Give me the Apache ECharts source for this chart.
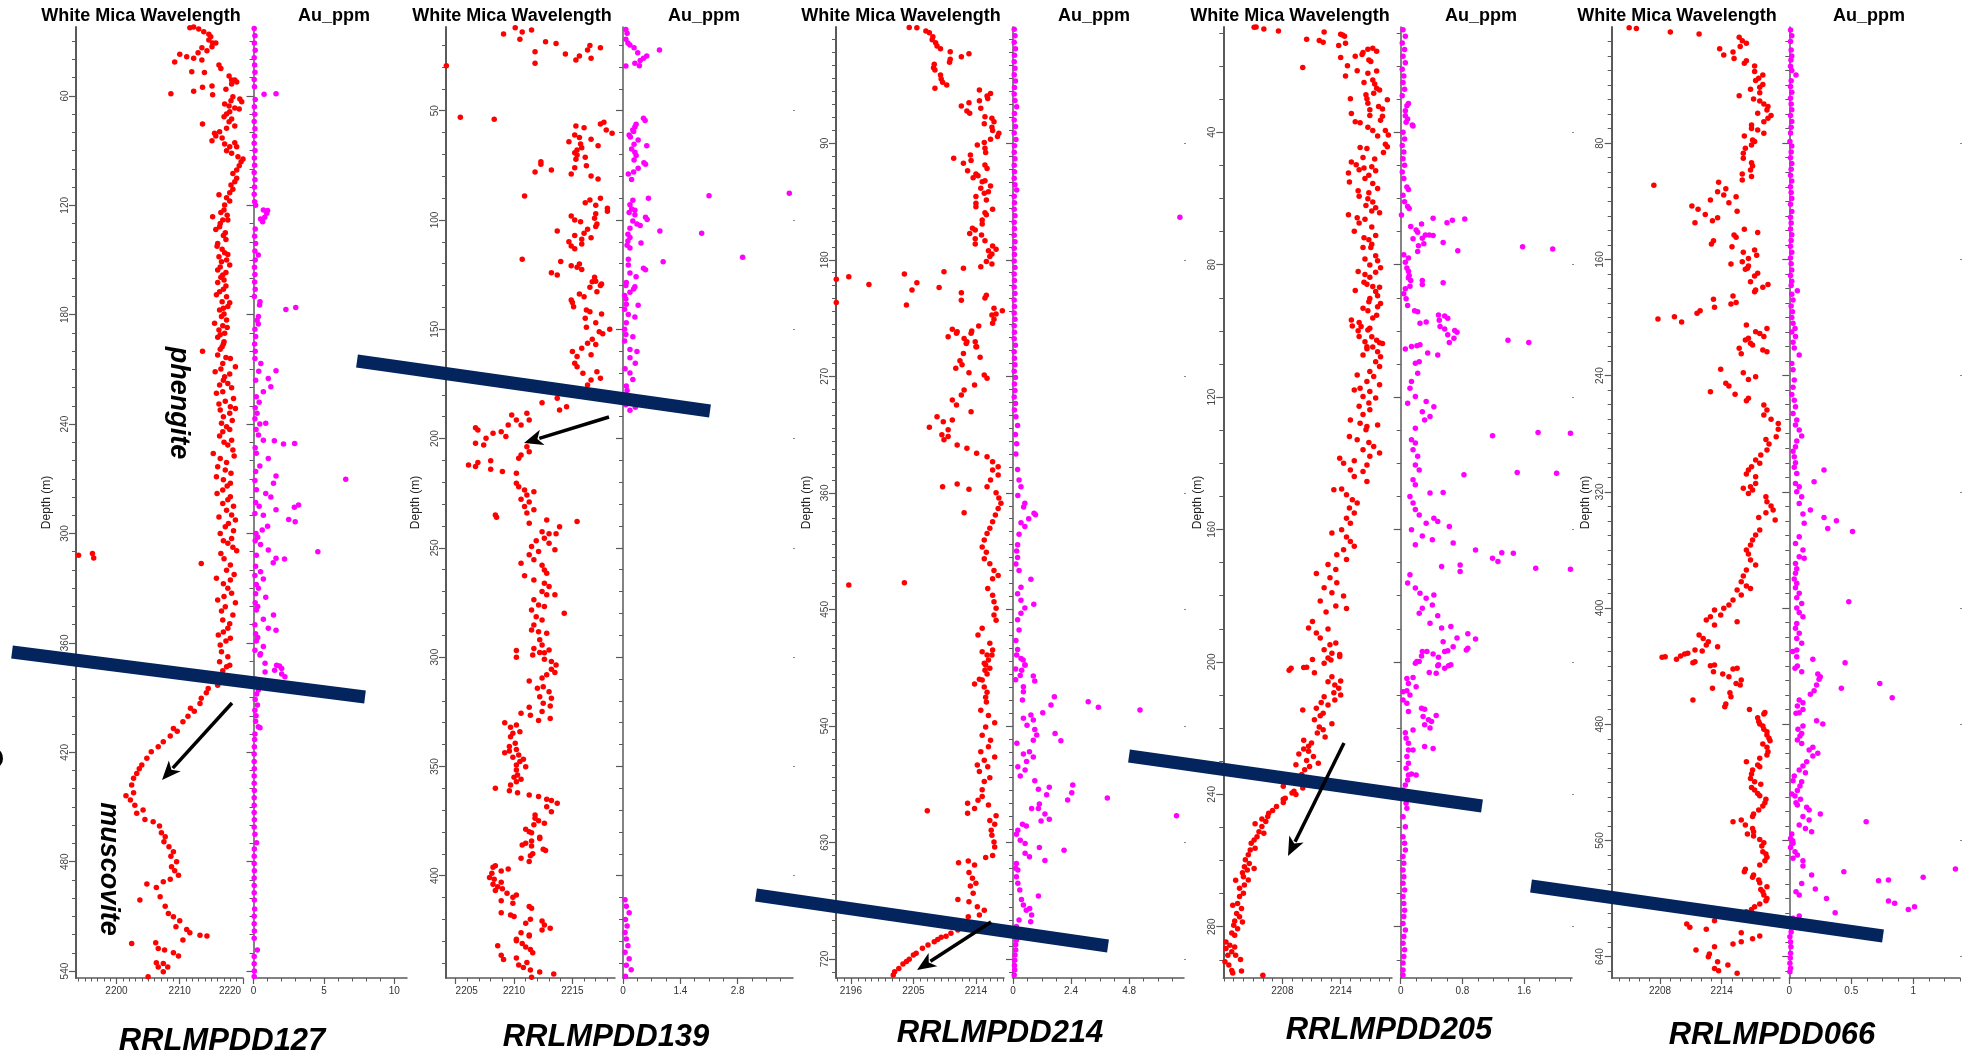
<!DOCTYPE html>
<html>
<head>
<meta charset="utf-8">
<script src="https://cdn.jsdelivr.net/npm/echarts@6.0.0/dist/echarts.min.js"></script>
<style>
html, body { margin: 0; padding: 0; background: #fff; }
#chart { width: 1972px; height: 1050px; }
</style>
</head>
<body>
<div id="chart"></div>
<script>
const wmw127 = [
[2211.6,22.6],[2212.2,22.2],[2213.0,23.3],[2213.8,24.8],[2214.6,26.2],[2214.9,27.5],[2214.6,29.3],[2215.2,31],[2215.7,31],[2215.1,33],[2214.3,35.2],[2213.5,33.6],[2212.9,36.3],[2210.0,37.2],[2209.2,41.4],[2211.1,38.5],[2212.2,39.4],[2213.5,40.3],[2211.9,46.7],[2213.9,47.1],[2216.2,43],[2216.5,44.9],[2217.8,49.1],[2218.2,51.3],[2218.7,51.3],[2219.0,52.4],[2218.2,53.5],[2208.6,58.8],[2212.2,57.5],[2213.6,55.3],[2215.1,54.6],[2215.2,59.3],[2217.3,56.4],[2218.4,60.4],[2219.5,61.7],[2219.8,63.2],[2218.1,62.6],[2217.1,64.4],[2217.8,65.5],[2218.7,66.6],[2219.4,67.2],[2217.9,68.7],[2217.4,69.9],[2217.0,71.4],[2218.2,72.7],[2217.8,74.1],[2218.7,76.5],[2213.6,75.4],[2217.4,77.8],[2216.3,79.6],[2215.5,80.5],[2215.7,82],[2216.7,83.1],[2215.1,84.6],[2217.1,86.4],[2218.7,85.7],[2219.0,87.9],[2217.9,87.9],[2217.4,90.1],[2218.2,91.5],[2219.2,93.4],[2220.0,94.6],[2219.7,96.1],[2219.4,98.3],[2219.0,100.6],[2218.4,102.5],[2219.0,105.2],[2218.7,107.1],[2218.1,108.9],[2218.4,111.2],[2217.9,113.1],[2216.2,114.2],[2217.4,115.8],[2217.9,117.6],[2217.1,119.8],[2215.2,126.3],[2217.0,122.6],[2216.8,128.1],[2217.6,128.1],[2215.7,133.2],[2216.3,131.8],[2217.3,138.7],[2216.0,140.9],[2216.7,144.1],[2216.2,148.2],[2217.4,150],[2217.9,152.7],[2216.0,155.5],[2216.8,158.2],[2217.0,161],[2216.0,162.4],[2217.3,164.3],[2216.3,167.4],[2217.4,170.1],[2216.7,172.9],[2217.9,173.4],[2216.3,177.4],[2217.0,179.6],[2217.4,182.9],[2215.5,184.7],[2216.2,188.4],[2217.1,190.2],[2216.0,192.4],[2217.0,194.8],[2216.7,197.6],
[2216.5,124],[2217.5,125.5],[2216.4,130],[2217.2,135],[2216.9,136.5],[2215.9,142.5],[2217.1,146],[2217.6,147],[2216.6,151],[2216.4,153.8],[2217.3,156.8],[2216.5,159.5],[2216.9,166],[2215.8,169],[2217.6,175.5],[2216.9,176.5],[2216.6,181],[2216.8,186],[2217.5,187],[2216.4,191],[2216.9,196],[2216.4,199],
[2213.6,200],[2216.0,202.1],[2218.0,204],[2216.8,206.7],[2215.6,211.3],[2218.8,208.5],[2217.1,214],[2216.3,218.6],[2217.6,217.7],[2215.8,223.1],[2216.8,222.3],[2218.5,225.9],[2218.0,230.5],[2218.8,231.4],[2216.4,232.3],[2216.9,236],[2217.4,241.5],[2216.8,244.2],[2218.2,248.8],[2217.6,251.5],[2215.3,256.1],[2218.4,254.2],[2216.4,258.8],[2216.0,263.4],[2217.2,265.2],[2215.8,268.9],[2218.0,272.5],[2216.8,276.2],[2218.0,279.9],[2216.8,283.5],[2217.4,287.2],[2218.2,289.9],[2218.8,292.6],[2217.2,296.3],[2216.4,300],[2218.2,302.7],[2217.6,305.4],[2219.0,309.5],[2213.4,316.4],[2218.0,317.3],[2217.4,320.1],[2215.8,324.6],[2218.0,325.5],[2217.6,330.1],[2218.2,332.8],[2216.0,336.5],[2217.2,340.2],[2218.4,344.7],[2216.8,347.5],[2217.6,352],[2216.1,355.7],[2218.0,357.5],[2216.4,361.2],
[2217.3,203.5],[2216.5,209.8],[2217.9,212.5],[2216.9,216],[2218.2,220],[2217.2,227.5],[2216.2,229],[2217.9,234],[2218.3,238],[2216.6,239.5],[2217.9,243],[2216.3,246.5],[2217.0,250],[2218.6,257.5],[2217.4,261],[2218.1,267],[2216.9,270.5],[2217.5,274],[2215.9,278],[2217.6,281.5],[2218.5,285],[2216.2,291],[2217.7,294.5],[2218.5,298.5],[2216.9,304],[2218.4,307.5],[2216.5,311],[2217.0,313.8],[2218.6,322.5],[2216.9,327.5],[2217.0,334.5],[2218.8,338],[2216.6,342.5],[2217.9,349.5],[2216.9,354],[2217.3,359],
[2194.0,312],[2196.2,311],[2196.4,313.5],
[2216.6,364.9],[2217.6,367.6],[2216.3,370.4],[2217.9,372.2],[2217.4,373.1],[2216.8,375.3],[2217.2,378],[2216.5,380.5],[2216.0,383.2],[2214.5,385],[2214.2,387.4],[2213.4,390.4],[2213.2,393.2],[2211.7,395.9],[2212.3,397.5],[2211.3,400.2],[2210.5,403.3],[2209.0,406.9],[2209.6,408.5],[2208.5,411.1],[2207.4,414.2],[2206.6,417],[2205.5,419.7],[2204.8,423.3],[2204.0,427],[2203.6,429],[2203.2,431.6],[2202.7,434.3],[2202.4,438],[2202.7,442.2],[2201.5,443.9],[2202.2,446.2],[2202.9,449],[2203.2,453.5],[2204.2,451.7],[2204.5,456.8],[2205.8,458.1],[2206.8,460.5],[2207.1,464.2],[2207.7,466.3],[2207.5,469.1],[2208.3,471.8],[2209.0,474.6],[2208.6,477],[2209.5,480],[2208.7,482.8],[2209.2,485],[2209.8,487.4],[2208.5,489.7],[2207.4,491],[2204.8,492.3],[2206.3,494.1],[2206.9,499.3],[2203.7,501],[2207.7,504.4],[2208.2,508.4],[2209.0,510.2],[2210.0,512.4],[2209.4,515.7],[2211.1,517.2],[2211.6,519],[2213.2,520.3],[2214.3,520.7],[2210.5,523],[2202.4,524.9],[2206.2,524.5],[2206.6,527.6],[2207.6,528.5],[2209.0,530],[2209.8,531.8],[2206.3,535.5],[2207.4,535.8],[2206.6,537.7],[2208.1,537.7],[2207.4,540.4],[2205.0,543.1]
];
const au127 = [
[0.75,59.1],[1.6,58.8],[0.15,120],[0.7,122.6],[0.94,124.4],[0.8,126.5],[0.65,129],[1.0,122.8],[0.5,127.5],[0.34,147.3],[0.46,172.9],[0.43,174.7],[2.3,177.1],[3.0,176],[0.35,181],[0.34,185.1],[0.25,183],
[0.52,206.7],[0.37,211],[1.6,210.7],[1.05,215],[0.7,222.3],[1.23,219.5],[0.4,228],[0.25,234],[0.45,240],[0.87,239.6],[0.35,246],[0.7,248.8],[1.48,249.1],[2.13,250.9],[2.92,250.6],[1.05,258.8],[0.45,263],[1.6,268.5],[6.55,270.2],[1.42,272.5],[0.87,278],[1.23,280],[0.4,285],[3.2,284.4],[2.9,285.6],[1.6,287],[0.7,290],[2.5,292.3],[2.96,293.6],[1.0,296],[0.62,298.1],[0.3,302],[0.5,306],[4.57,310],[1.05,309],[1.6,313.6],[2.2,314],[1.4,316],[0.5,321],[0.7,325],[0.35,330],[0.87,335],[0.3,340],[1.42,344.7],[0.7,347],[1.05,352],[1.6,353],[0.3,357],[0.7,362],[0.5,366],[1.84,372.7],
[0.46,366.7],[0.82,371.2],[1.64,372.2],[2.0,374],[1.5,375],[2.23,378.6],[2.0,377],[0.82,376],[0.34,385.9],[0.22,388],[0.28,394],[0.18,400],[0.34,406],[0.46,406.5],[0.1,410],[0.22,469.6],[0.27,528.5],
[0.05,23],[0.1,27],[0.06,31],[0.12,35],[0.05,39],[0.08,43],[0.1,47],[0.05,51],[0.07,55],[0.12,62],[0.06,66],[0.09,70],[0.05,74],[0.1,78],[0.07,82],[0.05,86],[0.1,90],[0.06,94],[0.08,98],[0.05,102],[0.1,106],[0.07,110],[0.05,114],[0.08,118],[0.12,133],[0.08,137],[0.15,141],[0.1,145],[0.12,150],[0.07,154],[0.1,158],[0.08,162],[0.12,166],[0.06,170],[0.1,188],[0.15,192],[0.08,196],[0.12,200],[0.1,204],[0.15,216],[0.2,225],[0.12,231],[0.1,237],[0.18,243],[0.12,253],[0.2,256],[0.15,266],[0.1,271],[0.2,276],[0.15,283],[0.1,289],[0.18,300],[0.12,304],[0.2,312],[0.15,318],[0.1,323],[0.2,328],[0.15,333],[0.12,338],[0.2,342],[0.1,350],[0.15,355],[0.2,359],[0.1,364],[0.15,380],[0.2,383],[0.12,391],[0.1,397],[0.15,403],[0.08,413],[0.06,417],[0.05,421],[0.05,425],[0.06,429],[0.05,433],[0.05,437],[0.06,441],[0.05,445],[0.05,449],[0.05,453],[0.06,457],[0.05,461],[0.1,465],[0.06,473],[0.05,477],[0.05,481],[0.06,485],[0.05,489],[0.05,493],[0.05,497],[0.06,501],[0.08,506],[0.05,510],[0.05,514],[0.06,518],[0.05,522],[0.05,532],[0.05,536],[0.06,540],[0.05,543]
];

const wmw139 = [
[2209.1,14.9],[2210.1,12],[2210.7,14],[2211.5,13.1],[2210.5,17.3],[2212.7,18.4],[2213.6,19.2],[2211.8,23],[2211.8,28.3],[2214.4,24],[2215.3,26.8],[2215.6,25],[2216.3,22.2],[2216.5,20.2],[2216.6,26],[2217.4,21.2],[2204.2,29.4],
[2205.4,53],[2208.3,53.9],[2215.3,57],[2216.0,57.8],[2217.4,56.1],[2217.7,55.3],[2217.9,58.8],[2218.4,60.3],[2215.2,61.1],[2215.6,62.2],[2216.6,63.1],[2214.7,64.2],[2215.7,65.2],[2217.2,66],[2215.8,66.9],[2215.4,68],[2215.2,69.2],[2215.4,70.3],[2216.1,71.3],[2215.3,72.2],[2212.3,73.3],[2212.3,74.5],[2216.2,75.2],[2215.2,76.1],[2213.2,77.1],[2211.8,78],[2214.9,79],[2216.6,79.9],[2217.2,81.2],[2210.9,89],[2216.1,92.1],[2216.5,90.8],[2217.4,90],[2217.0,93.3],[2218.0,94.6],[2218.0,96],[2214.9,98.2],[2215.2,100],[2217.0,97.1],[2216.9,99.2],[2215.7,100.8],[2217.1,101.8],[2217.0,103],[2216.3,104.2],[2213.7,105],[2216.0,106.1],[2215.2,107.1],[2216.6,108.1],[2214.7,110],[2215.8,108.8],[2215.8,111],[2214.9,111.9],[2215.2,113.1],[2210.7,118],[2214.0,119],[2215.6,120.1],[2214.9,120.9],[2215.4,121.6],[2215.8,122.6],[2213.2,124.1],[2213.7,125.2],[2216.9,126.2],[2217.0,128],[2216.7,128.2],[2217.5,129.3],[2217.4,130],[2216.5,130.8],[2217.1,132.8],[2215.6,133.9],[2216.0,135.1],[2214.9,136.6],[2215.0,137.8],[2215.1,139.7],[2216.2,141.2],[2216.5,142],[2216.1,145],[2217.5,143],[2217.0,147],[2216.2,149.1],[2217.3,151.1],[2218.2,150],[2217.6,152],[2216.7,154.6],[2216.3,156.4],[2217.0,157],[2215.8,158.7],
[2215.0,160.2],[2215.4,162.5],[2216.6,161.7],[2215.2,165.5],[2217.1,169.4],[2215.9,170.1],[2215.4,167.1],[2216.6,173.2],[2217.4,172.4],[2216.3,175.5],[2214.1,178.5],[2212.4,183.6],[2213.7,181.6],[2214.5,185.4],[2213.9,186.9],[2211.1,188.4],[2209.8,189.2],[2210.2,191.5],[2211.3,191.5],[2210.6,193.8],[2209.5,193.8],[2206.7,195],[2206.9,196.1],[2208.2,197.6],[2208.9,196.9],[2209.3,199.1],[2207.6,199.9],[2206.7,202.1],[2207.4,202.9],[2211.1,203.7],[2211.3,206],[2210.6,207.5],[2210.4,209],[2206.1,212.1],[2206.7,212.8],[2206.9,211],[2208.0,210.2],[2208.0,214],[2209.0,215.1],[2210.2,215.9],[2210.2,220.4],[2210.4,222],[2210.9,223.5],[2211.1,225.8],[2210.6,227.8],[2211.7,224.3],[2211.3,229],[2210.9,231.1],[2211.7,232.6],[2211.1,234],[2208.4,235],[2208.5,236],[2212.8,237.2],[2215.4,238],[2213.9,240.3],[2211.3,238.7],[2212.4,242.6],[2213.0,243.6],[2213.6,243.5],[2212.6,245.6],[2211.9,246.7],[2213.0,247.9],[2211.5,249.4],[2212.1,251.7],[2213.5,250.9],[2211.3,253.2],[2210.6,257],[2211.7,255.5],[2212.4,258],[2212.6,260.1],[2212.8,261.6],[2210.9,262.8],[2211.7,264.7],[2212.6,266.2],[2213.0,267.7],[2212.4,270],[2212.8,271.5],[2213.5,271.5],[2211.7,273.8],[2212.1,276.1],[2212.6,276.8],[2214.3,279.9],[2211.5,278.4],[2211.9,281.5],[2212.4,283],[2211.7,285.3],[2211.5,287.6],[2212.1,288.4],[2212.8,289.1],[2212.2,292.1],[2212.4,294.4],[2213.0,296.7],[2211.7,296],[2210.2,297],[2210.2,300],[2212.6,298],
[2211.6,299],[2212.2,297.9],[2212.6,301],[2213.2,302],[2213.6,303.6],[2213.2,305.5],[2213.5,307],[2212.8,308.1],[2212.4,309.6],[2211.3,310.9],[2212.0,314.2],[2212.5,313.5],[2213.0,315.8],[2213.2,318.8],[2212.2,318.1],[2212.5,321.1],[2213.1,322.3],[2211.3,322.9],[2212.4,324.9],[2211.4,326.6],[2210.6,325.7],[2212.1,329],[2213.1,328.1],[2209.2,330],[2210.2,331],[2209.7,332.1],[2210.5,334.1],[2209.9,334.8],[2209.7,336.4],[2210.1,339.4],[2209.6,340.9],[2210.2,342.2],[2209.2,343.7],[2209.6,342.9],[2210.4,344.8],[2209.9,345.8],[2210.8,346.7],[2210.5,347.8],[2210.2,349.3],[2211.0,350.1],[2210.2,351.6],[2210.3,353.9],[2210.6,355.9],[2210.0,355],[2210.2,357],[2209.7,358.5],[2208.4,360],[2209.6,361.1],[2210.3,362],[2211.3,363.1],[2212.1,363.8],[2212.8,365],[2213.2,365.6],[2213.7,366.8],[2212.8,368.4],[2213.2,370.7],[2211.8,372.2],[2211.8,373.7],[2212.1,374.8],[2212.6,376],[2211.7,376.7],[2211.0,378.7],[2211.3,379.9],[2211.5,380.4],[2212.2,382.4],[2212.2,383],[2211.5,384.1],[2211.0,385.1],[2210.7,385.9],[2211.5,386.4],[2212.5,387.9],[2212.7,388.5],[2211.6,390],[2211.4,390.9],[2210.6,392],[2211.3,393.5],[2209.5,396.9],[2208.9,397.8],[2208.4,395.4],[2208.2,396.1],[2208.1,398.9],[2207.9,400.8],[2208.3,401.6],[2208.9,403],[2208.2,403.9],[2208.6,405],[2209.0,406],[2208.4,406.8],[2209.4,408],[2210.2,408.8],[2209.9,409.8],[2208.9,411.5],[2209.9,412.6],[2211.3,414.1],[2211.5,414.9],[2208.9,416.9],[2209.7,418],[2210.0,418.7],[2211.4,419.9],[2211.0,421.7],[2212.4,420.7],[2212.6,422.6],[2212.4,424.8],[2213.1,424],[2210.6,426.1],[2211.3,427.1],[2211.3,427.6],[2210.2,429.1],[2210.2,429.8],[2210.7,431],[2211.0,432.6],[2211.4,433.8],[2211.6,435.3],[2208.6,432],[2208.9,436.4],[2209.1,438.3],[2210.2,437.6],[2210.4,440.9],[2210.8,442],[2211.1,439.7],[2211.4,443.1],[2212.2,444],[2213.4,445],[2211.5,446.5]
];
const au139 = [
[0.07,12.8],[0.1,14.6],[0.07,17.3],[0.12,19],[0.17,19.9],[0.27,21.2],[0.36,23.5],[0.58,25],[0.5,26],[0.42,27],[0.29,28.3],[0.4,29.4],[0.89,22.2],[0.07,29.5],
[0.5,53.5],[0.54,54.5],[0.32,56.2],[0.29,57.5],[0.24,58.8],[0.15,61.1],[0.26,59.5],[0.18,62],[0.37,63.4],[0.27,65.4],[0.58,66],[0.21,67.5],[0.29,69],[0.32,70.5],[0.27,72.5],[0.51,73.8],[0.55,74.5],[0.37,76.3],[0.26,78],[0.13,79],[0.21,81.5],[0.62,90],[2.1,88.9],[4.06,87.8],[0.24,91],[0.17,93],[0.21,95],[0.29,95.5],[0.15,96.6],[0.29,97.6],[0.55,98.8],[0.59,99.8],[0.24,100.5],[0.34,101.8],[0.42,102.5],[0.17,103.8],[0.9,105],[1.92,106.1],[0.12,106.5],[0.17,108],[0.12,109.6],[0.44,110.5],[0.1,111.6],[0.17,112.8],[0.13,118],[2.92,117.1],[0.98,119.1],[0.13,120.6],[0.17,124.2],[0.32,126],[0.5,122.1],[0.55,122.8],[0.08,128.6],[0.07,130],[0.26,131.6],[0.29,130.5],[0.17,133.1],[0.04,134.6],[0.07,136.2],[0.37,139],[0.08,138.5],[0.04,140.8],[0.13,143.2],[0.29,144.4],[0.08,147],[0.04,150],[0.07,152.4],[0.04,155.4],[0.17,159.3],
[0.24,153.4],[0.34,160.2],[0.17,163],[0.3,165.5],[0.17,170],[0.24,173],[0.1,178],[0.2,182],[0.3,185.7],[0.17,187],[0.07,184.5],[0.05,168],[0.08,176],[0.06,180],
[0.05,411],[0.08,414],[0.15,417],[0.06,420],[0.1,423],[0.05,426],[0.08,429],[0.12,432],[0.05,435],[0.15,438],[0.08,441],[0.2,443],[0.06,446]
];

const wmw214 = [
[2204.4,0.5],[2205.5,0.7],[2206.8,3.3],[2207.3,4.6],[2207.8,7.7],[2207.7,10],[2208.2,12.3],[2208.4,14.8],[2208.9,17],[2210.3,19.3],[2211.9,23.2],[2213.0,20.8],[2210.3,25.1],[2210.2,27.5],[2208.0,29],[2207.9,31.6],[2208.1,33.4],[2208.9,37.3],[2209.0,40.3],[2209.2,42.9],[2209.8,45],[2208.1,47.5],[2214.5,48.9],[2216.1,51.5],[2215.6,53.5],[2215.7,55.5],[2214.5,57.1],[2213.0,58.7],[2211.9,61.2],[2214.7,63],[2212.7,65.1],[2213.1,66.9],[2215.3,69.5],[2216.3,70.7],[2216.6,73.3],[2215.2,75],[2216.3,77.6],[2216.4,80.1],[2217.3,82.3],[2217.1,84.8],[2216.1,86.9],[2215.2,89.4],[2214.2,91.3],[2215.3,93.9],[2215.4,97.2],[2210.8,101.6],[2213.2,99],[2213.3,103.4],[2212.2,105.5],[2215.3,106.8],[2215.6,109.4],[2212.8,111.2],[2214.0,113.8],[2214.3,115.1],[2213.6,116.7],[2214.9,119.7],[2215.3,119],[2216.1,123],[2214.7,124.8],[2215.2,128.6],[2215.8,127.4],[2214.0,131.2],[2215.5,133.8],[2214.0,136.4],[2214.0,139],[2216.4,141],[2215.3,143.6],[2215.5,145.3],[2214.9,149.2],[2214.9,152.3],[2213.5,155.7],[2213.9,157],[2213.1,159.6],[2214.8,160.9],[2213.9,163.7],[2213.9,167.8],[2215.3,165.3],[2216.4,169.3],[2216.9,171.8],[2215.8,173.1],[2216.3,175.5],[2216.0,177.5],[2215.5,181.4],[2214.7,185.3],[2216.3,183.3],[2212.2,186.6],[2209.4,189.2],[2203.7,191],[2195.7,193.1],[2198.6,199],[2193.9,195],[2193.9,213],[2205.5,197.7],[2204.8,203.3],[2204.0,215],[2208.7,201.3],[2211.9,205.4],[2211.9,211.2],[2215.5,207.4],[2215.3,209.5],[2216.6,217.4],[2217.8,219.3],[2216.3,222.6],[2216.9,221.8],[2216.6,225.9],[2216.4,229],[2214.4,231.1],[2210.6,233.7],[2211.2,236.8],[2210.0,239.4],[2213.4,235],[2212.3,240.7],[2212.6,244.6],[2213.9,243.3],[2214.0,247.2],
[2211.3,235.5],[2213.3,236.8],[2212.7,243.3],[2214.1,247.1],[2212.2,252.3],[2214.6,255.3],[2211.7,258],[2211.1,263.8],[2212.0,261],[2213.0,267.2],[2215.2,269],[2215.6,271.5],[2213.8,276.7],[2212.3,280.6],[2211.9,284.4],[2210.6,288.3],[2211.2,292.2],[2213.3,297.3],[2208.4,301.2],[2209.3,305],[2207.3,309.4],[2210.6,303.7],[2210.0,311.2],[2209.1,315.1],[2209.4,319],[2210.0,316.4],[2211.3,323],[2212.7,325.6],[2214.1,329.5],[2215.6,332.1],[2216.4,335.9],[2217.2,339.8],[2216.4,342.4],[2217.2,346.3],[2216.1,350.1],[2215.6,355.3],[2209.2,355.3],[2211.3,353.2],[2213.0,357.3],[2216.9,360],[2217.3,364],[2217.6,368.1],[2217.2,372],[2216.8,377.2],[2212.3,375.4],[2216.4,382.3],[2216.0,387.4],[2215.6,391.3],[2215.2,396.5],[2214.9,401.9],[2215.5,405.8],[2215.2,410.9],[2216.0,414.8],[2216.6,420],[2217.2,423.8],[2216.4,426.4],[2195.7,431.2],[2203.7,429.4],[2215.7,433.8],[2216.4,439],[2216.6,444.1],[2216.9,449.2],[2216.6,454.4],[2216.9,458.3],[2214.9,464.6],[2214.3,469.7],[2216.0,476.1],[2216.4,481.3],[2215.6,485.2],[2215.2,491.6],[2216.0,495.5],
[2214.9,482.7],[2216.3,485.3],[2215.8,489],[2215.4,493],[2215.3,497],[2215.6,500],[2214.9,504.5],[2213.8,507.6],[2214.5,504],[2215.2,510],[2215.6,514],[2215.4,517.8],[2215.5,521.6],[2214.7,528],[2215.8,532],[2216.7,537.6],[2215.4,540.8],[2214.9,547.3],[2216.1,551],[2215.8,556],[2214.7,560],[2216.7,564],[2215.2,566.6],[2214.2,570.2],[2215.7,571.5],[2214.5,575.3],[2216.0,580],[2215.2,583],[2214.9,589.4],[2214.9,594.6],[2214.3,597.5],[2212.8,599.8],[2213.8,603.7],[2215.8,601],[2212.8,607.5],[2207.0,605.5],[2216.9,609.3],[2216.0,613],[2216.7,616],[2216.2,620.6],[2216.3,624.5],[2216.6,629.6],[2216.7,633.5],[2216.4,640],[2215.4,641.7],[2211.5,645.7],[2212.9,644.3],[2213.8,647.4],[2213.0,653.3],[2213.5,657.7],[2214.0,661.6],[2213.2,663.6],[2213.6,669.3],[2211.4,674],[2213.0,675.8],[2214.2,679.7],[2215.2,682.3],[2212.9,687.4],[2214.5,686.1],[2212.2,691.8],[2211.4,697.7],[2210.4,700.2],[2209.7,702.4],[2209.0,703.3],[2208.5,705],[2208.0,706.7],[2207.1,709.2],[2206.3,711.8],[2205.4,715.6],[2205.0,717],[2204.4,720.3],[2204.0,722],[2203.5,723.9],[2202.9,727.3],[2202.3,729.9],[2202.1,732.4]
];
const au214 = [
[0.05,2],[0.08,7],[0.05,12],[0.1,17],[0.06,22],[0.05,27],[0.08,32],[0.05,37],[0.1,42],[0.06,47],[0.05,52],[0.08,57],[0.15,61.8],[0.06,67],[0.05,72],[0.1,77],[0.05,82],[0.12,87],[0.06,92],[0.05,97],[0.08,102],[0.05,107],[0.06,112],[0.05,117],[0.08,122],[0.15,126],[0.05,131],[0.06,136],[0.05,141],[0.08,146],[0.05,151],[0.06,156],[0.05,161],[0.08,166],[0.05,171],[0.06,176],[0.05,181],[0.08,186],[0.05,191],[0.06,196],[0.05,201],[0.08,206],[0.05,211],[0.06,216],[0.05,221],[0.08,226],[0.05,231],[0.06,236],[0.05,241],[0.1,246],[0.05,251],[0.06,256],[0.08,261],[0.05,266],[0.1,271],[0.06,276],[0.08,281],[0.05,286],[0.1,291],[0.06,296],[6.9,147.2],
[0.12,301.2],[0.19,308],[0.1,315],[0.15,322],[0.12,330],[0.19,342],[0.25,350],[0.33,355.3],[0.2,362],[0.49,368],[0.44,371],[0.87,375.8],[0.93,377],[0.65,380],[0.33,383],[0.49,386],[0.25,392],[0.19,400],[0.15,405],[0.19,410],[0.12,415],[0.25,420],[0.74,426.8],[0.33,433],[0.19,438],[0.33,443],[0.86,446],[0.49,449],[0.33,453],[0.19,458],[0.25,466],[0.12,474],[0.19,481],[0.33,488],[0.49,493],
[0.15,485.3],[0.42,489],[0.5,493],[0.11,496],[0.3,501],[0.11,504.4],[0.36,497],[0.84,501.5],[0.9,505.4],[0.43,509.7],[0.43,513.6],[0.39,520],[1.71,517.4],[1.57,523.8],[3.11,521.3],[3.53,525.6],[5.25,527.7],[1.23,529.8],[0.74,531.5],[0.43,534],[0.84,535.5],[0.58,539.4],[0.9,542.7],[0.98,547],[0.84,551],[1.74,545.9],[1.98,551.5],[0.16,553.3],[0.43,561.6],[0.68,560],[0.84,564],[0.56,567.5],[0.2,571.5],[0.5,574],[0.3,578.6],[0.9,582.3],[1.05,588.9],[1.5,587.4],[1.39,593.2],[2.47,585.7],[2.43,591.6],[2.26,597.3],[3.9,595.7],[1.09,600.4],[1.05,603.7],[0.77,603.7],[1.32,608],[1.5,612],[1.16,613.5],[6.76,609.4],[0.39,616],[0.55,617.4],[0.2,620.5],[0.14,623.6],[0.3,628.3],[0.5,630.8],[1.09,634],[2.11,636],[0.5,638.4],[0.68,641],[1.32,644],[0.14,646.2],[0.11,650],[0.2,651.3],[0.14,656.5],[0.2,661.6],[0.28,666.7],[1.05,671.4],[0.35,674],[0.43,678.4],[0.69,681],[0.77,686.1],[0.55,682.3],[0.73,691.3],[0.25,690],[0.14,695],[0.17,700],[0.14,705.5],[0.11,709],[0.11,713],[0.08,717],[0.07,721],[0.06,725],[0.07,728.6],[0.05,732.4]
];

const wmw205 = [
[2205.1,8.3],[2205.3,8.2],[2206.1,8.8],[2207.6,9.4],[2210.5,11.9],[2211.8,12.3],[2212.2,12.8],[2212.3,9.7],[2210.1,20.4],[2213.8,13.8],[2214.0,10.4],[2214.4,11],[2214.2,10.6],[2214.5,13.1],[2214.0,17.4],[2214.7,19.9],[2214.5,23],[2215.5,17],[2216.3,15.9],[2216.8,14.9],[2217.3,14.6],[2217.7,15.5],[2216.9,18.2],[2217.1,18.6],[2216.2,16.5],[2215.7,21.4],[2216.8,22.2],[2217.7,21.5],[2217.3,24.2],[2216.4,25],[2217.5,25.4],[2217.7,26.7],[2218.0,27.2],[2217.4,28.2],[2216.6,28.7],[2216.7,29.9],[2215.0,29.9],[2218.8,30.2],[2216.8,31.2],[2217.9,32.2],[2218.3,33],[2217.0,33.2],[2215.1,34.3],[2217.0,34.9],[2218.3,35.2],[2218.1,36.4],[2215.5,36.8],[2216.0,37.1],[2216.8,38.5],[2217.3,39.5],[2218.6,39.5],[2218.9,40.8],[2217.8,41.1],[2219.3,43.2],[2218.6,43.6],[2218.8,44.4],[2218.4,46.1],[2216.0,44.6],[2216.7,44.9],[2216.3,47.6],[2217.5,48.1],[2215.1,49],[2215.6,49.8],[2216.4,50.8],[2214.8,52.3],[2215.9,51.3],[2217.2,50.4],[2217.6,51.6],[2214.9,55],[2216.9,53],[2216.5,54],[2217.3,55.5],[2217.8,57],[2216.9,58.3],[2215.8,57.7],[2215.9,59.3],[2216.8,60.1],[2217.3,61.1],[2217.6,62.8],[2218.0,64.3],[2216.6,62.1],[2217.2,63.8],[2214.8,64.9],[2215.7,65.8],[2216.5,66.3],[2215.9,67.4],[2217.2,68.6],[2215.4,69.9],[2216.4,71.9],[2216.9,72.5],[2217.6,71.2],[2217.2,73.8],[2216.3,74.8],[2217.1,74.8],[2217.6,77.3],[2216.5,78.3],[2217.8,78.8],[2217.0,80.1],[2218.1,80.9],[2215.8,82.1],[2216.5,83],[2217.0,83.8],[2217.6,82.3],[2216.4,85.3],[2217.3,86.6],[2218.0,86.8],[2215.5,87.8],[2216.7,85.9],[2217.6,88.1],[2217.8,89.4],[2217.0,90.2],[2216.9,91.2],[2218.1,91.7],[2216.3,93.2],[2217.8,92.7],[2216.8,93.9],[2217.7,95.3],[2217.3,96.1],[2215.1,96.7],[2215.2,98.5],[2215.9,97.5],[2216.1,98.7],[2215.8,100],[2216.8,99.7],[2217.0,99.2],[2215.9,101.7],[2216.5,103.3],[2217.7,102.8],[2218.0,103.6],[2217.3,104.9],[2216.7,105.4],
[2217.2,101.8],[2216.7,104.8],[2218.3,103.8],[2217.8,106.3],[2218.1,107.8],[2216.3,107.3],[2217.6,109.3],[2218.0,110.8],[2217.0,112.3],[2215.7,113.3],[2217.4,113.8],[2216.7,115.3],[2218.0,116.3],[2216.0,117.3],[2217.0,118.3],[2215.4,117.9],[2216.3,119.8],[2217.6,120.3],[2216.9,121.8],[2215.9,122.8],[2217.0,123.8],[2216.3,125.3],[2215.0,126.9],[2216.0,127.9],[2216.7,128.9],[2217.8,128.4],[2216.6,129.9],[2214.9,131.9],[2215.7,132.9],[2216.9,133.7],[2217.4,134.9],[2216.3,135.9],[2218.0,136.9],[2217.0,137.9],[2213.9,138.5],[2215.4,139.2],[2214.3,140],[2216.7,140.5],[2215.0,142],[2216.3,142.5],[2215.4,144],[2216.7,145.5],[2213.3,148],[2214.1,147.8],[2214.6,149.5],[2215.2,151],[2215.7,152],[2214.9,153.5],[2215.4,155],[2214.6,156.6],[2215.0,158.1],[2213.1,161.1],[2214.1,160.1],[2214.6,162.3],[2215.0,163.6],[2215.4,165.1],[2214.3,166.1],[2213.6,167.6],[2214.6,169.1],[2212.7,170.6],[2213.5,172.1],[2211.5,173.3],[2212.9,174.6],[2213.6,176.1],[2212.3,177.6],[2213.1,179.1],[2214.3,180.1],[2211.9,181.6],[2213.5,183.1],[2214.6,183.9],[2212.5,184.9],[2211.1,187.8],[2210.7,189.8],[2211.5,191.3],[2212.7,190.1],[2211.9,192.8],[2212.9,194.8],[2213.5,194.3],[2212.3,196.3],[2213.9,197.8],[2212.7,198.8],[2211.1,199.3],[2208.9,201.9],[2210.5,201.6],
[2213.1,197.4],[2213.9,198.4],[2213.0,199.4],[2212.3,200.4],[2208.7,202.5],[2210.2,201.7],[2211.3,203.3],[2213.1,204.5],[2214.0,205.8],[2212.7,206],[2213.4,207],[2213.8,208],[2213.3,209.3],[2214.0,210],[2212.3,210.5],[2212.0,212.3],[2212.7,213],[2213.4,211.5],[2210.1,214.5],[2211.5,214],[2212.2,215.5],[2211.3,217.5],[2211.9,216.3],[2213.1,218.7],[2211.8,219.7],[2212.2,220.5],[2211.6,221.5],[2212.4,222.7],[2210.2,223.7],[2211.0,224.5],[2210.7,225.5],[2210.2,226.3],[2209.7,227.8],[2210.7,227],[2211.2,228.6],[2210.5,229.8],[2209.4,231.1],[2210.8,231.6],[2210.3,232.6],[2211.7,230.6],[2210.0,234],[2209.3,235.5],[2208.1,237.6],[2209.2,239.1],[2209.4,240.1],[2210.1,238.1],[2209.0,239.6],[2208.3,241.2],[2208.1,242.5],[2208.1,241.5],[2207.4,243.7],[2207.0,244.9],[2206.6,245.7],[2206.5,246.7],[2205.9,247.5],[2206.3,248.2],[2205.2,248.9],[2205.9,249.7],[2205.6,251.3],[2206.1,251.8],[2205.4,252.8],[2205.1,253.8],[2204.8,254.8],[2205.2,256.3],[2204.7,256.8],[2204.5,258.3],[2204.2,259.8],[2204.6,260.9],[2204.1,261.9],[2204.4,262.9],[2205.1,262.4],[2203.9,263.7],[2204.0,264.9],[2204.5,265.9],[2203.6,268.4],[2204.1,267.4],[2203.2,266],[2204.0,269.9],[2203.6,270.9],[2202.9,273.5],[2203.4,273],[2203.8,274.5],[2203.3,276],[2203.6,277],[2203.1,278.3],[2203.9,278.6],[2203.0,279.6],[2203.4,280.6],[2202.8,281.9],[2203.1,282.6],[2202.2,284.6],[2202.6,285.6],[2202.2,286.6],[2203.1,286.1],[2202.8,287.6],[2202.4,288.6],[2203.2,288.6],[2202.1,290.6],[2202.5,291.6],[2202.8,293.2],[2203.7,289.9],[2203.8,293.4],[2202.9,294],[2206.0,294.7]
];
const au205 = [
[0.03,9],[0.06,11],[0.02,13],[0.05,15],[0.03,17],[0.06,19],[0.02,21],[0.04,23],[0.03,25],[0.05,27],[0.02,29],[0.1,31.3],[0.08,32],[0.06,33.5],[0.06,35],[0.09,36],[0.07,37],[0.15,37.8],[0.16,38.1],[0.03,40],[0.05,42],[0.02,44],[0.04,46],[0.03,48],[0.05,50],[0.02,52],[0.04,54],[0.08,56.5],[0.1,57.3],[0.03,59],[0.05,61],[0.09,62.4],[0.11,63],[0.01,65],
[0.13,68.5],[0.27,67.7],[0.42,66],[0.6,67.3],[0.67,66.6],[0.83,66.2],[0.2,69.5],[0.22,70.2],[0.32,71],[0.37,71],[0.42,71.2],[0.28,72],[0.16,72.2],[0.55,73.3],[0.23,74.3],[0.3,73.7],[0.74,75.8],[1.58,74.6],[1.97,75.3],[0.22,76],[0.04,77],[0.1,78],[0.06,79.3],[0.08,81],[0.1,82],[0.11,83.3],[0.1,84],[0.13,84.8],[0.28,84.8],[0.28,86],[0.55,85.5],[0.12,86.5],[0.06,87.3],[0.04,88.8],[0.07,90.3],[0.09,92.3],[0.18,93.9],[0.22,94.2],[0.49,95.2],[0.57,95.5],[0.61,96.2],[0.25,97.7],[0.33,97.3],[0.5,96.8],[0.51,98.7],[0.57,99.4],[0.7,99.9],[0.73,100.4],[0.61,101.2],[0.63,103.5],[0.69,102.2],[1.39,102.8],[1.66,103.5],[0.06,105.5],[0.21,104.5],
[0.14,104.7],[0.25,104.2],[0.35,106.7],[0.48,107.3],[0.24,109.3],[0.19,109.8],[0.22,112.8],[0.14,115.3],[0.12,117.3],[0.19,119.8],[0.09,121.9],[0.33,121.3],[0.28,124.4],[0.43,122.9],[0.38,125.9],[0.31,126.9],[0.19,129.4],[0.14,132.9],[0.19,133.9],[1.19,131.7],[1.78,130.7],[2.2,130.9],[0.16,135.9],[0.22,137.9],[0.19,140.5],[0.24,142],[0.82,143.5],[1.51,142.8],[2.02,143],[0.16,145],[0.19,146.5],[0.12,150],[0.16,152],[0.38,149],[0.55,148.8],[0.19,154],[0.24,155.6],[0.43,156.6],[0.48,157.6],[0.33,158.1],[0.63,159.1],[0.14,160.1],[0.28,162],[0.41,163.1],[0.19,164.6],[0.68,164.1],[0.97,166.2],[1.31,167],[1.19,168.7],[1.26,169.7],[1.46,167.2],[0.53,171.2],[0.77,170.7],[0.77,172.7],[1.75,171.7],[2.2,172],[0.12,173.7],[0.09,176.2],[0.19,177.7],[0.25,179.3],[0.43,179.8],[0.33,180.8],[0.41,182.8],[0.28,183.8],[0.24,185.3],[0.48,186.1],[0.38,188.3],[0.53,189.8],[0.65,189.3],[0.73,192.8],[0.55,193.9],[0.87,191.5],[0.97,193.1],[0.68,195.4],[0.61,196.6],[0.87,195.9],[0.28,196.9],[0.24,199.9],[0.48,201.2],[0.65,200.9],
[0.27,198.2],[0.42,197.6],[0.49,198.6],[0.34,196.9],[0.57,196.9],[0.85,196.4],[0.21,199.9],[0.19,200.4],[0.37,203.2],[0.46,203.4],[0.49,200.9],[0.57,201.9],[0.62,201.2],[0.08,205],[0.16,204.7],[0.1,206.5],[0.2,207.5],[0.03,209],[0.08,208.7],[0.12,210],[0.03,211.5],[0.08,212.5],[0.1,215],[0.27,214],[0.31,214.3],[0.29,216.5],[0.36,217.5],[0.4,218],[0.31,219],[0.38,220],[0.46,216.2],[0.16,220.6],[0.06,221.4],[0.07,223.1],[0.1,224.6],[0.1,226.6],[0.16,226.6],[0.08,228.6],[0.1,230.6],[0.31,225.6],[0.42,226.2],[0.07,232.1],[0.1,234.2],[0.14,233.9],[0.2,234.2],[0.09,235.7],[0.06,237.2],[0.03,238.7],[0.04,240.7],[0.07,242.7],[0.08,244.2],[0.03,246.8],[0.06,249.8],[0.03,252.8],[0.05,254.8],[0.06,256.8],[0.03,258.8],[0.04,260.8],[0.03,262.9],[0.04,264.9],[0.03,266.9],[0.05,268.9],[0.03,270.9],[0.04,273],[0.05,275],[0.04,276.9],[0.03,279],[0.06,281],[0.04,283],[0.03,285],[0.05,287],[0.04,289],[0.03,291],[0.03,293.1],[0.03,294.6]
];

const wmw066 = [
[2205.0,0.5],[2205.7,1.1],[2209.0,3.4],[2211.8,4.8],[2215.7,7.1],[2216.0,9.4],[2216.4,11.2],[2215.8,13.5],[2213.8,14.9],[2214.2,19.3],[2215.1,17.2],[2215.2,21.6],[2216.2,25],[2216.4,23.2],[2217.2,26.8],[2217.2,30.7],[2218.0,33],[2217.6,35.3],[2217.3,36.9],[2218.0,39.5],[2217.7,41.5],[2216.8,42.9],[2217.7,45.2],[2215.7,47.3],[2217.1,49.6],[2217.7,50.9],[2218.1,53],[2218.5,54.8],[2218.4,57.1],[2217.5,59.4],[2218.8,61],[2218.5,62.9],[2218.1,65.2],[2216.9,67.5],[2216.9,69.8],[2217.5,70.9],[2218.1,73.2],[2216.2,75],[2217.0,77.8],[2217.2,78.9],[2216.9,81.2],[2216.3,83.5],[2216.1,87],[2216.1,90.4],[2216.9,93.4],[2217.0,95.7],[2216.8,98.4],[2216.0,101.2],[2216.9,103],[2216.0,105.3],[2213.7,106.9],[2207.4,109],[2213.6,113.4],[2214.4,111.3],[2214.2,115.7],[2215.4,116.8],[2212.9,119.1],[2214.7,121],[2215.5,126.9],[2211.1,123.2],[2211.7,125.5],[2212.4,129],[2213.6,131.3],[2213.1,133.3],[2211.4,134.7],[2216.2,139.3],[2217.5,141.4],[2215.2,143.2],[2215.4,144.8],[2213.2,147.1],[2213.0,149.4],[2215.0,151.2],[2216.1,155.1],[2217.2,153.5],[2217.4,157.2],[2216.0,161.6],[2214.9,163.2],[2216.6,159.3],[2216.6,164.5],[2216.3,166.8],[2216.5,166.1],[2217.5,169.6],[2217.2,171.4],[2216.8,175.3],[2218.0,179.2],[2218.5,177.2],[2217.2,182.2],[2217.3,181.1],[2213.2,187.5],[2213.3,193],[2215.1,185.2],[2214.9,190.7],[2215.4,189.6],[2211.6,197.1],[2211.9,195.3],[2207.8,201],[2209.4,199.4],[2210.1,203.1],[2216.4,205.2],[2217.3,209.8],[2217.7,211],[2218.4,207.5],[2216.3,215.5],[2216.8,217.8],[2215.7,221.2],[2218.0,222.4],
[2216.6,214.3],[2217.0,219],[2218.1,213],[2218.4,223.5],[2215.9,225],[2213.9,235.7],[2216.1,238],[2217.3,240.7],[2216.6,242.6],[2212.9,251.1],[2214.4,245.3],[2214.7,247.2],[2215.3,252.9],[2216.6,255.6],[2216.4,257.3],[2218.1,260.2],[2218.4,263.7],[2218.1,267.1],[2218.8,270.1],[2219.5,272.9],[2219.5,277],[2219.9,279.7],[2219.3,282],[2218.3,283.9],[2218.6,287.1],[2218.4,291.2],[2217.8,294.7],[2217.3,298.1],[2217.7,300.4],[2216.9,302.7],[2216.6,305],[2217.3,309.6],[2216.4,307.7],[2217.3,314.2],[2216.8,316.5],[2216.1,317.6],[2217.0,318.8],[2216.6,321.1],[2218.3,323.4],[2218.4,326.8],[2218.8,329.8],[2219.0,332.5],[2218.3,334.4],[2217.6,337.6],[2219.2,339.4],[2217.7,346.3],[2217.3,349.7],[2217.0,353.2],[2216.8,356.6],[2216.4,360.1],[2216.6,362.8],[2216.8,367],[2217.3,370.4],[2216.4,373.8],[2216.1,378],[2215.9,381.9],[2216.4,384.9],[2216.8,386.5],[2215.5,387.6],[2215.9,391.1],[2215.1,394.5],[2214.7,397.9],[2214.2,400.2],[2213.3,401.4],[2213.9,404.8],[2215.5,409.4],[2212.9,406],[2212.5,408.3],[2213.3,411.7],[2211.8,418.6],[2212.2,420.9],[2212.7,423.2],[2213.6,426.6],[2212.5,425.5],[2211.4,428.9],[2210.7,431.2],[2210.0,433],[2208.5,433.5],[2211.4,437],[2213.3,439.3],[2215.5,441.5],
[2208.2,433.9],[2209.6,435.3],[2210.4,431.7],[2211.2,437.6],[2212.1,429.6],[2212.9,439.7],[2213.2,443.8],[2214.1,445.4],[2214.7,447.3],[2215.1,442],[2215.4,451.9],[2215.8,453],[2215.9,449.6],[2213.1,455.3],[2214.8,458.3],[2214.9,461],[2211.2,463.3],[2214.4,466.1],[2214.3,467.9],[2216.7,469.8],[2217.5,475.5],[2217.6,478.2],[2217.7,479.8],[2218.2,472],[2218.1,473],[2218.0,481.2],[2218.1,483.5],[2218.4,485.1],[2218.4,487.4],[2218.6,489.7],[2218.7,491.3],[2218.0,493.6],[2218.4,495.9],[2218.5,498.9],[2218.4,501.2],[2216.4,505.8],[2217.7,503.5],[2217.7,509.2],[2217.5,508.1],[2217.0,511.5],[2216.9,514.3],[2216.8,517.3],[2217.2,519.6],[2217.8,521.4],[2216.9,523.5],[2217.2,525.3],[2217.5,527.6],[2217.7,529.2],[2218.3,531.7],[2218.2,534],[2218.0,536.3],[2217.6,539],[2217.1,541.8],[2217.0,543.6],[2215.1,547.1],[2215.9,545.9],[2216.3,549.4],[2217.0,551.7],[2217.1,554],[2216.5,555.6],[2217.1,557],[2217.7,559.3],[2218.1,561.6],[2217.9,563.8],[2218.0,567.8],[2218.3,569.4],[2218.4,571.6],[2218.2,573.9],[2217.7,576.9],[2216.3,579.9],[2216.2,581.5],[2217.1,583.8],[2217.0,585.4],[2217.6,587.3],[2217.7,589.1],[2218.4,591.8],[2217.8,593.7],[2218.0,595.3],[2218.1,597.6],[2218.4,599.9],[2218.3,601.5],[2217.7,603.8],[2217.2,605.6],[2216.9,607.5],[2216.4,609.1],[2215.9,611.4],[2215.1,612.5],[2213.3,615.3],[2210.6,617.6],[2210.9,619.8],[2212.5,621.2],[2215.9,623.5],[2217.0,627.7],[2217.7,625.8],[2215.9,629.7],[2215.1,631.3],[2211.5,635.5],[2213.3,633.2],[2212.8,638.2],[2212.7,640],[2213.6,643.5],[2214.6,645.8],[2213.3,648.1],[2213.7,649.7],[2215.5,651.5]
];
const au066 = [
[0.01,2],[0.02,6],[0.01,10],[0.015,15.8],[0.02,20],[0.013,22.7],[0.01,27],[0.02,30],[0.054,33],[0.015,37],[0.01,41],[0.02,45],[0.01,49],[0.015,53],[0.02,57],[0.01,61],[0.02,65],[0.015,69],[0.01,73],[0.005,78.9],[0.02,82],[0.015,86],[0.01,90],[0.02,94],[0.015,98],[0.01,102],[0.02,106],[0.01,110],[0.015,114],[0.02,118],[0.01,122],[0.02,127.1],[0.01,131],[0.015,135],[0.01,139],[0.02,143],[0.015,147],[0.01,151],[0.02,155],[0.01,159],[0.015,163],[0.02,167.3],[0.01,171],[0.02,175],[0.015,178],[0.065,181.5],[0.02,184],[0.03,188],[0.015,192],[0.025,196],[0.02,200],[0.03,204],[0.046,207.5],[0.02,210],
[0.05,213],[0.03,217],[0.04,221],[0.08,225.8],[0.02,231.6],[0.03,236],[0.04,243],[0.03,248],[0.02,253],[0.04,257],[0.05,261.4],[0.03,266],[0.06,270.6],[0.05,274],[0.08,277.5],[0.1,281.6],[0.06,285],[0.05,289],[0.03,292],[0.04,295.8],[0.05,300],[0.04,303],[0.06,307.3],[0.28,305],[0.2,313],[0.05,314.2],[0.08,316.5],[0.06,320],[0.1,323.4],[0.08,328],[0.17,332.5],[0.11,335.3],[0.28,337.6],[0.38,339.9],[0.31,345.2],[0.51,347.4],[0.12,341.7],[0.08,350.9],[0.05,355.5],[0.11,360.1],[0.08,364.7],[0.12,365.8],[0.05,369.3],[0.06,373],[0.05,376.1],[0.04,380],[0.06,383],[0.05,386],[0.08,389.9],[0.06,393],[0.1,396.8],[0.48,395.6],[0.06,400],[0.08,403],[0.11,406],[0.06,410.6],[0.05,414],[0.08,417.4],[0.06,421],[0.1,424.3],[0.06,428.9],
[0.027,430],[0.06,433.5],[0.19,435.3],[0.45,437.6],[0.065,439.9],[0.046,441.5],[0.1,443.8],[0.23,445.4],[0.25,447.3],[0.24,449.1],[0.22,453],[0.73,451.9],[0.42,455.3],[0.2,456.9],[0.17,459.4],[0.83,461.7],[0.08,463.3],[0.11,465.2],[0.065,467.5],[0.11,469.8],[0.054,472.5],[0.08,472.1],[0.22,477.6],[0.27,479.8],[0.11,481.2],[0.07,483.5],[0.1,486.3],[0.086,488.1],[0.065,490.9],[0.1,493.2],[0.19,495.9],[0.16,497.7],[0.23,500],[0.19,501.9],[0.14,505.8],[0.11,508.8],[0.08,511.5],[0.13,513.4],[0.04,515.7],[0.03,518.9],[0.1,519.6],[0.086,522.5],[0.065,525.7],[0.02,528],[0.046,529.4],[0.09,531.7],[0.054,534],[0.065,535.6],[0.14,537.2],[0.16,539],[0.25,541.8],[0.11,543.6],[0.62,547.1],[0.16,545.9],[0.08,549.4],[0.13,551.7],[0.18,554],[0.02,555.6],[0.01,558.6],[0.027,560.2],[0.03,562],[0.01,564.8],[0.046,567.8],[0.065,570],[0.03,572.3],[0.11,574],[0.11,577.6],[0.44,581.5],[0.18,583.8],[1.34,579.7],[1.08,585.4],[0.1,589.6],[0.72,587.7],[0.8,587.3],[0.21,593.4],[0.054,595.3],[0.08,597.6],[0.3,599.9],[0.8,601.7],[0.85,603.3],[0.96,607.5],[1.01,605.6],[0.37,609.8],[0.08,612.1],[0.03,613.6],[0.02,616],[0.01,619.4],[0.015,623],[0.005,626.3],[0.01,630],[0.013,633.2],[0.01,637.7],[0.008,641],[0.005,644.6],[0.01,648],[0.005,650.4]
];

// tick label values
const depthLabels127 = [60,120,180,240,300,360,420,480,540];
const depthLabels139 = [50,100,150,200,250,300,350,400];
const depthLabels214 = [90,180,270,360,450,540,630,720];
const depthLabels205 = [40,80,120,160,200,240,280];
const depthLabels066 = [80,160,240,320,400,480,560,640];
const wlLabels127 = [2200,2210,2220];
const wlLabels139 = [2205,2210,2215];
const wlLabels214 = [2196,2205,2214];
const wlLabels205 = [2208,2214];
const wlLabels066 = [2208,2214];
const auLabels127 = [0,5,10];
const auLabels139 = [0,1.4,2.8];
const auLabels214 = [0,2.4,4.8];
const auLabels205 = [0,0.8,1.6];
const auLabels066 = [0,0.5,1];

function range(a, b, s) {
    const r = [];
    for (let v = a; v <= b + 1e-9; v += s) r.push(+v.toFixed(4));
    return r;
}

const FONT = '"Liberation Sans", Arial, Helvetica, sans-serif';
const AXIS = '#5a5a5a';
const TOP = 27, HEIGHT = 951;

const holes = [
    { name: 'RRLMPDD127', wmw: wmw127, au: au127, depth: [22.2, 543.8], depthLabels: depthLabels127, depthMinor: range(30, 540, 10),
      wl: [2193.6, 2220], wlLabels: wlLabels127, wlMinor: range(2194, 2220, 1), auR: [0, 10.9], auLabels: auLabels127, auMinor: range(0, 10, 1),
      wmwLeft: 76, wmwWidth: 167, auLeft: 253.5, auWidth: 153.5, nameGap: 23, shiftVal: 2220, shiftPad: [0, 26, 0, 0], rightTicks: false,
      titleX: 141, auTitleX: 334, holeX: 222, holeTop: 1030 },
    { name: 'RRLMPDD139', wmw: wmw139, au: au139, depth: [11.7, 446.8], depthLabels: depthLabels139, depthMinor: range(20, 440, 10),
      wl: [2204.17, 2218.65], wlLabels: wlLabels139, wlMinor: range(2205, 2218, 1), auR: [0, 4.15], auLabels: auLabels139, auMinor: range(0, 3.85, 0.35),
      wmwLeft: 446, wmwWidth: 169, auLeft: 623, auWidth: 170, nameGap: 24, shiftVal: 2205, shiftPad: [0, 0, 0, 22], rightTicks: true,
      titleX: 512, auTitleX: 704, holeX: 606, holeTop: 1026 },
    { name: 'RRLMPDD214', wmw: wmw214, au: au214, depth: [0.2, 734.7], depthLabels: depthLabels214, depthMinor: range(10, 730, 10),
      wl: [2193.86, 2218.04], wlLabels: wlLabels214, wlMinor: range(2194, 2218, 1), auR: [0, 7.07], auLabels: auLabels214, auMinor: range(0, 6.6, 0.6),
      wmwLeft: 836, wmwWidth: 168, auLeft: 1013, auWidth: 171, nameGap: 23, rightTicks: true,
      titleX: 901, auTitleX: 1094, holeX: 1000, holeTop: 1022 },
    { name: 'RRLMPDD205', wmw: wmw205, au: au205, depth: [8.2, 295.5], depthLabels: depthLabels205, depthMinor: range(10, 290, 10),
      wl: [2201.93, 2219.28], wlLabels: wlLabels205, wlMinor: range(2202, 2219, 1), auR: [0, 2.22], auLabels: auLabels205, auMinor: range(0, 2.2, 0.2),
      wmwLeft: 1223.3, wmwWidth: 168.7, auLeft: 1400.7, auWidth: 171.3, nameGap: 20, rightTicks: true,
      titleX: 1290, auTitleX: 1481, holeX: 1389, holeTop: 1019 },
    { name: 'RRLMPDD066', wmw: wmw066, au: au066, depth: [0, 654.7], depthLabels: depthLabels066, depthMinor: range(10, 650, 10),
      wl: [2203.3, 2219.67], wlLabels: wlLabels066, wlMinor: range(2204, 2219, 1), auR: [0, 1.377], auLabels: auLabels066, auMinor: range(0, 1.375, 0.125),
      wmwLeft: 1611.7, wmwWidth: 168.3, auLeft: 1789.3, auWidth: 170.7, nameGap: 20, rightTicks: true,
      titleX: 1677, auTitleX: 1869, holeX: 1772, holeTop: 1024 }
];

const labelStyle = { fontSize: 10, color: '#333', fontFamily: FONT };

function mainX(gi, r, labels, h) {
    return {
        type: 'value', gridIndex: gi, position: 'bottom', min: r[0], max: r[1],
        axisLine: { show: true, onZero: false, lineStyle: { color: AXIS, width: 1.5 } },
        axisTick: { show: true, customValues: labels, length: 6, lineStyle: { color: AXIS, width: 1.2 } },
        axisLabel: {
            show: true, customValues: labels, margin: 8, ...labelStyle,
            formatter: v => (h && v === h.shiftVal) ? '{s|' + v + '}' : String(v),
            rich: { s: { ...labelStyle, padding: h && h.shiftPad ? h.shiftPad : 0 } }
        },
        splitLine: { show: false }
    };
}
function minorX(gi, r, ticks) {
    return {
        type: 'value', gridIndex: gi, position: 'bottom', min: r[0], max: r[1],
        axisLine: { show: false, onZero: false },
        axisTick: { show: true, customValues: ticks, length: 3.5, lineStyle: { color: AXIS, width: 1 } },
        axisLabel: { show: false }, splitLine: { show: false }
    };
}
function mainY(gi, r, labels, withLabels, nameGap) {
    return {
        type: 'value', gridIndex: gi, position: 'left', inverse: true, min: r[0], max: r[1],
        name: withLabels ? 'Depth (m)' : '', nameLocation: 'middle', nameRotate: 90, nameGap: nameGap || 20,
        nameTextStyle: { fontSize: 12, color: '#222', fontFamily: FONT },
        axisLine: { show: true, onZero: false, lineStyle: { color: AXIS, width: withLabels ? 2 : 1.5 } },
        axisTick: { show: true, customValues: labels, length: 7, lineStyle: { color: AXIS, width: 1.2 } },
        axisLabel: { show: withLabels, customValues: labels, rotate: 90, margin: 6, ...labelStyle, color: '#444' },
        splitLine: { show: false }
    };
}
function minorY(gi, r, ticks) {
    return {
        type: 'value', gridIndex: gi, position: 'left', inverse: true, min: r[0], max: r[1],
        axisLine: { show: false, onZero: false },
        axisTick: { show: true, customValues: ticks, length: 4, lineStyle: { color: AXIS, width: 1 } },
        axisLabel: { show: false }, splitLine: { show: false }
    };
}
function rightY(gi, r, ticks) {
    return {
        type: 'value', gridIndex: gi, position: 'right', inverse: true, min: r[0], max: r[1],
        axisLine: { show: false, onZero: false },
        axisTick: { show: true, customValues: ticks, length: 2, lineStyle: { color: '#888', width: 1 } },
        axisLabel: { show: false }, splitLine: { show: false }
    };
}

const grid = [], xAxis = [], yAxis = [], series = [];
holes.forEach(h => {
    const gW = grid.length;
    grid.push({ left: h.wmwLeft, top: TOP, width: h.wmwWidth, height: HEIGHT });
    const gA = grid.length;
    grid.push({ left: h.auLeft, top: TOP, width: h.auWidth, height: HEIGHT });

    const xW = xAxis.length;
    xAxis.push(mainX(gW, h.wl, h.wlLabels, h));
    xAxis.push(minorX(gW, h.wl, h.wlMinor));
    const xA = xAxis.length;
    xAxis.push(mainX(gA, h.auR, h.auLabels, null));
    xAxis.push(minorX(gA, h.auR, h.auMinor));

    const yW = yAxis.length;
    yAxis.push(mainY(gW, h.depth, h.depthLabels, true, h.nameGap));
    yAxis.push(minorY(gW, h.depth, h.depthMinor));
    const yA = yAxis.length;
    yAxis.push(mainY(gA, h.depth, h.depthLabels, false));
    yAxis.push(minorY(gA, h.depth, h.depthMinor));
    if (h.rightTicks) yAxis.push(rightY(gA, h.depth, h.depthLabels));

    series.push({ type: 'scatter', name: h.name + ' WMW', xAxisIndex: xW, yAxisIndex: yW, data: h.wmw,
        symbolSize: 5.5, itemStyle: { color: '#ff0000', opacity: 1 }, silent: true, animation: false });
    series.push({ type: 'scatter', name: h.name + ' Au', xAxisIndex: xA, yAxisIndex: yA, data: h.au,
        symbolSize: 5.5, itemStyle: { color: '#ff00ff', opacity: 1 }, silent: true, animation: false });
});

// annotations
const NAVY = '#04245e';
const bars = [[12, 652, 365, 697], [357, 361, 710, 411], [756, 895, 1108, 946], [1129, 756, 1482, 806], [1531, 886, 1883, 936]];
const arrows = [[232, 703, 162, 780], [609, 417, 524, 443], [991, 922, 917, 970], [1344, 743, 1288, 856]];

function arrowEls(x1, y1, x2, y2) {
    const ang = Math.atan2(y2 - y1, x2 - x1), L = 19, W = 8;
    const bx = x2 - L * Math.cos(ang), by = y2 - L * Math.sin(ang);
    const nx = -Math.sin(ang), ny = Math.cos(ang);
    return [
        { type: 'line', z: 110, shape: { x1: x1, y1: y1, x2: bx + 3 * Math.cos(ang), y2: by + 3 * Math.sin(ang) }, style: { stroke: '#000', lineWidth: 3.5 } },
        { type: 'polygon', z: 110, shape: { points: [[x2, y2], [bx + nx * W, by + ny * W], [bx + 5 * Math.cos(ang), by + 5 * Math.sin(ang)], [bx - nx * W, by - ny * W]] }, style: { fill: '#000' } }
    ];
}

const graphic = [];
holes.forEach(h => {
    graphic.push({ type: 'text', x: h.titleX, y: 16, z: 120, style: { text: 'White Mica Wavelength', font: 'bold 18px ' + FONT, fill: '#000', align: 'center', verticalAlign: 'middle' } });
    graphic.push({ type: 'text', x: h.auTitleX, y: 16, z: 120, style: { text: 'Au_ppm', font: 'bold 18px ' + FONT, fill: '#000', align: 'center', verticalAlign: 'middle' } });
    graphic.push({ type: 'text', x: h.holeX, y: h.holeTop + 11, z: 120, style: { text: h.name, font: 'italic bold 31px ' + FONT, fill: '#000', align: 'center', verticalAlign: 'middle' } });
});
bars.forEach(b => graphic.push({ type: 'line', z: 100, shape: { x1: b[0], y1: b[1], x2: b[2], y2: b[3] }, style: { stroke: NAVY, lineWidth: 13, lineCap: 'butt' } }));
arrows.forEach(a => graphic.push(...arrowEls(a[0], a[1], a[2], a[3])));
graphic.push({ type: 'text', x: 178, y: 403, rotation: -Math.PI / 2, z: 120, style: { text: 'phengite', font: 'italic bold 27px ' + FONT, fill: '#000', align: 'center', verticalAlign: 'middle' } });
graphic.push({ type: 'text', x: 108, y: 869, rotation: -Math.PI / 2, z: 120, style: { text: 'muscovite', font: 'italic bold 27px ' + FONT, fill: '#000', align: 'center', verticalAlign: 'middle' } });
graphic.push({ type: 'text', x: -8, y: 757, rotation: -Math.PI / 2, z: 120, style: { text: 'e', font: 'italic bold 42px ' + FONT, fill: '#000', align: 'center', verticalAlign: 'middle' } });

const chart = echarts.init(document.getElementById('chart'), null, { renderer: 'canvas' });
chart.setOption({
    animation: false,
    backgroundColor: '#fff',
    grid: grid,
    xAxis: xAxis,
    yAxis: yAxis,
    series: series,
    graphic: graphic
});
</script>
</body>
</html>
